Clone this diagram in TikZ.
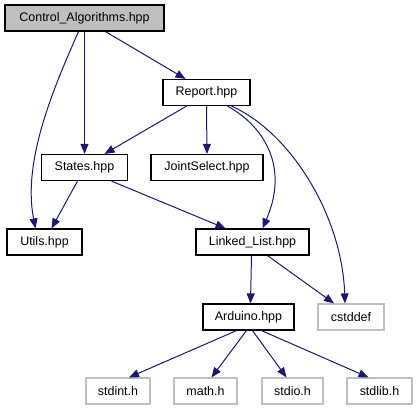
\documentclass[tikz,border=0pt]{standalone}
\usepackage{fontspec}
\setmainfont{Liberation Sans}
\usetikzlibrary{arrows.meta,calc}
\definecolor{edgec}{HTML}{191970}
\definecolor{sysc}{HTML}{BFBFBF}
\tikzset{
  filebox/.style={draw=black, line width=1.2bp, minimum height=26bp, inner sep=0pt, font=\fontsize{12.5}{14}\selectfont},
  sysbox/.style={draw=sysc, line width=1.2bp, minimum height=26bp, inner sep=0pt, font=\fontsize{12.5}{14}\selectfont},
  dep/.style={draw=edgec, line width=1bp, -{Triangle[length=10bp,width=8bp]}}
}
\begin{document}
\begin{tikzpicture}[x=1bp,y=-1bp]
\useasboundingbox (0,0) rectangle (417,411);
\node[filebox, fill=sysc, minimum width=159bp] (ctrl) at (84.5,18) {Control\_Algorithms.hpp};
\node[filebox, minimum width=87bp] (rep) at (206.5,92.5) {Report.hpp};
\node[filebox, minimum width=112bp] (joint) at (207,167.5) {JointSelect.hpp};
\node[filebox, minimum width=86bp] (states) at (84.5,167.5) {States.hpp};
\node[filebox, minimum width=75bp] (utils) at (44.5,242) {Utils.hpp};
\node[filebox, minimum width=113bp] (ll) at (252.5,242) {Linked\_List.hpp};
\node[filebox, minimum width=91bp] (ard) at (248.5,317) {Arduino.hpp};
\node[sysbox, minimum width=66bp] (cst) at (351,317) {cstddef};
\node[sysbox, minimum width=64bp] (sint) at (118,391) {stdint.h};
\node[sysbox, minimum width=63bp] (mth) at (205.5,391) {math.h};
\node[sysbox, minimum width=61bp] (sio) at (292.5,391) {stdio.h};
\node[sysbox, minimum width=65bp] (slib) at (379.5,391) {stdlib.h};

\draw[dep] ($(ctrl.south)+(21,0)$) -- ($(rep.north)+(-21,0)$);
\draw[dep] (ctrl.south) -- (states.north);
\draw[dep] ($(ctrl.south)+(-6,0)$) .. controls (55,85) and (22,160) .. ($(utils.north)+(-9,0)$);
\draw[dep] ($(rep.south)+(-20,0)$) -- ($(states.north)+(20,0)$);
\draw[dep] (rep.south) -- (joint.north);
\draw[dep] ($(rep.south)+(21,0)$) .. controls (262,125) and (290,165) .. ($(ll.north)+(10,0)$);
\draw[dep] ($(rep.south)+(25,0)$) .. controls (290,132) and (342,215) .. ($(cst.north)+(-6,0)$);
\draw[dep] ($(states.south)+(-7,0)$) -- ($(utils.north)+(7,0)$);
\draw[dep] ($(states.south)+(27,0)$) -- ($(ll.north)+(-27,0)$);
\draw[dep] ($(ll.south)+(-1,0)$) -- ($(ard.north)+(2,0)$);
\draw[dep] ($(ll.south)+(15,0)$) -- ($(cst.north)+(-17,0)$);
\draw[dep] ($(ard.south)+(-12,0)$) -- ($(sint.north)+(11,0)$);
\draw[dep] ($(ard.south)+(-2,0)$) -- ($(mth.north)+(6,0)$);
\draw[dep] ($(ard.south)+(4,0)$) -- ($(sio.north)+(-6,0)$);
\draw[dep] ($(ard.south)+(13,0)$) -- ($(slib.north)+(-11,0)$);
\end{tikzpicture}
\end{document}
